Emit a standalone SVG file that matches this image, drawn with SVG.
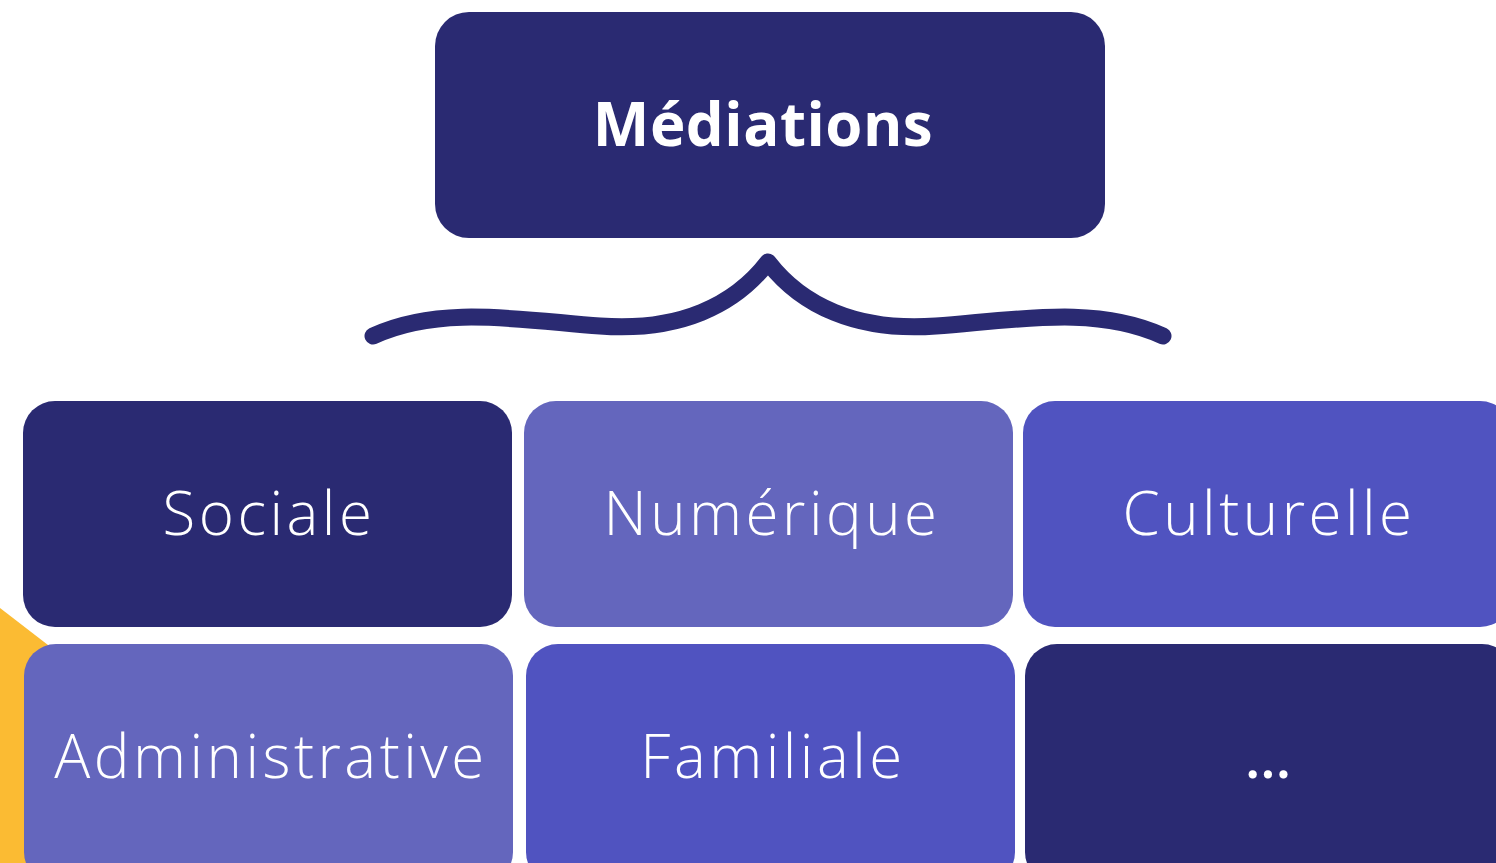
<svg xmlns="http://www.w3.org/2000/svg" width="1496" height="863" viewBox="0 0 1496 863">
<style>
.dark{fill:#2a2a72}
.mid{fill:#6466bd}
.blue{fill:#5053c0}
.lbl{font-family:"Open Sans","Liberation Sans",sans-serif;font-weight:300;font-size:60px;letter-spacing:3.5px;fill:#ffffff;text-anchor:middle}
.title{font-family:"Open Sans","Liberation Sans",sans-serif;font-weight:700;font-size:60px;letter-spacing:0.5px;fill:#ffffff;text-anchor:middle}
</style>
<rect width="1496" height="863" fill="#ffffff"/>
<polygon points="0,608 48,645 48,863 0,863" fill="#fbbb33"/>
<g id="connectors">
<path d="M373,336 C440,305 520,320 600,326 C680,332 735,305 768,262 C801,305 856,332 936,326 C1016,320 1096,305 1163,336" fill="none" stroke="#2a2a72" stroke-width="17" stroke-linecap="round" stroke-linejoin="round"/>
</g>
<g id="node-mediations">
<rect x="435" y="12" width="670" height="226" rx="34" class="dark"/>
<text x="763" y="146" class="title">Médiations</text>
</g>
<g id="node-sociale">
<rect x="23" y="401" width="489" height="226" rx="32" class="dark"/>
<text x="269" y="535" class="lbl">Sociale</text>
</g>
<g id="node-numerique">
<rect x="524" y="401" width="489" height="226" rx="32" class="mid"/>
<text x="772" y="535" class="lbl">Numérique</text>
</g>
<g id="node-culturelle">
<rect x="1023" y="401" width="489" height="226" rx="32" class="blue"/>
<text x="1269" y="535" class="lbl">Culturelle</text>
</g>
<g id="node-administrative">
<rect x="24" y="644" width="489" height="240" rx="32" class="mid"/>
<text x="271" y="778" class="lbl">Administrative</text>
</g>
<g id="node-familiale">
<rect x="526" y="644" width="489" height="240" rx="32" class="blue"/>
<text x="773" y="778" class="lbl">Familiale</text>
</g>
<g id="node-etc">
<rect x="1025" y="644" width="489" height="240" rx="32" class="dark"/>
<text x="1268" y="778" class="lbl" style="font-weight:600;letter-spacing:0;font-size:56px">...</text>
</g>
</svg>
